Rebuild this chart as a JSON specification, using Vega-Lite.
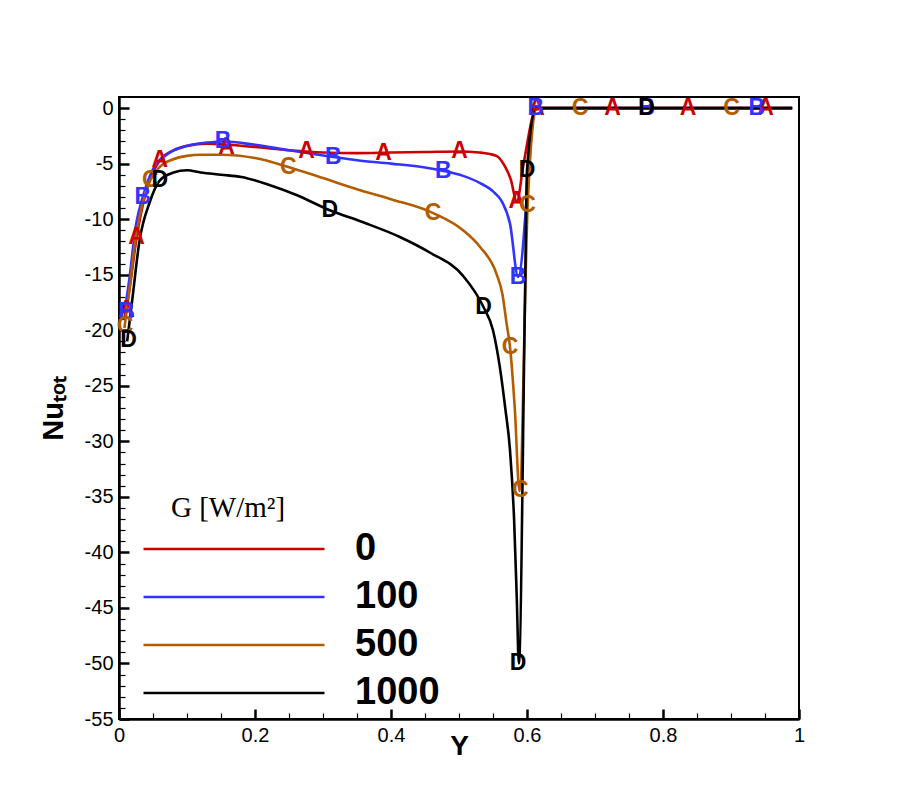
{
  "$schema": "https://vega.github.io/schema/vega-lite/v6.json",
  "width": 680,
  "height": 622,
  "autosize": {"type": "none"},
  "padding": {"left": 119, "top": 97, "right": 111, "bottom": 90},
  "background": "white",
  "datasets": {
    "curves": [
      {"G": "0", "Y": 0.008, "Nu": -19.0},
      {"G": "0", "Y": 0.015, "Nu": -16.5},
      {"G": "0", "Y": 0.026, "Nu": -11.6},
      {"G": "0", "Y": 0.04, "Nu": -7.5},
      {"G": "0", "Y": 0.06, "Nu": -4.7},
      {"G": "0", "Y": 0.08, "Nu": -3.8},
      {"G": "0", "Y": 0.1, "Nu": -3.4},
      {"G": "0", "Y": 0.13, "Nu": -3.2},
      {"G": "0", "Y": 0.16, "Nu": -3.3},
      {"G": "0", "Y": 0.2, "Nu": -3.5},
      {"G": "0", "Y": 0.25, "Nu": -3.8},
      {"G": "0", "Y": 0.3, "Nu": -4.0},
      {"G": "0", "Y": 0.35, "Nu": -4.05},
      {"G": "0", "Y": 0.4, "Nu": -4.0},
      {"G": "0", "Y": 0.45, "Nu": -3.95},
      {"G": "0", "Y": 0.5, "Nu": -3.9},
      {"G": "0", "Y": 0.53, "Nu": -4.0},
      {"G": "0", "Y": 0.555, "Nu": -4.3},
      {"G": "0", "Y": 0.568, "Nu": -5.3},
      {"G": "0", "Y": 0.576, "Nu": -6.4},
      {"G": "0", "Y": 0.585, "Nu": -8.4},
      {"G": "0", "Y": 0.595, "Nu": -5.0},
      {"G": "0", "Y": 0.614, "Nu": 0},
      {"G": "0", "Y": 0.99, "Nu": 0},
      {"G": "100", "Y": 0.008, "Nu": -18.5},
      {"G": "100", "Y": 0.015, "Nu": -15.5},
      {"G": "100", "Y": 0.025, "Nu": -10.5},
      {"G": "100", "Y": 0.035, "Nu": -8.0},
      {"G": "100", "Y": 0.05, "Nu": -5.5},
      {"G": "100", "Y": 0.07, "Nu": -4.2},
      {"G": "100", "Y": 0.1, "Nu": -3.4},
      {"G": "100", "Y": 0.13, "Nu": -3.1},
      {"G": "100", "Y": 0.153, "Nu": -3.0},
      {"G": "100", "Y": 0.2, "Nu": -3.3},
      {"G": "100", "Y": 0.25, "Nu": -3.8},
      {"G": "100", "Y": 0.315, "Nu": -4.4},
      {"G": "100", "Y": 0.35, "Nu": -4.7},
      {"G": "100", "Y": 0.4, "Nu": -5.0},
      {"G": "100", "Y": 0.45, "Nu": -5.35},
      {"G": "100", "Y": 0.477, "Nu": -5.65},
      {"G": "100", "Y": 0.506, "Nu": -6.1},
      {"G": "100", "Y": 0.531, "Nu": -6.75},
      {"G": "100", "Y": 0.55, "Nu": -7.5},
      {"G": "100", "Y": 0.563, "Nu": -8.4},
      {"G": "100", "Y": 0.575, "Nu": -10.4},
      {"G": "100", "Y": 0.587, "Nu": -15.2},
      {"G": "100", "Y": 0.613, "Nu": 0},
      {"G": "100", "Y": 0.99, "Nu": 0},
      {"G": "500", "Y": 0.008, "Nu": -19.8},
      {"G": "500", "Y": 0.015, "Nu": -16.5},
      {"G": "500", "Y": 0.025, "Nu": -11.5},
      {"G": "500", "Y": 0.035, "Nu": -8.5},
      {"G": "500", "Y": 0.046, "Nu": -6.5},
      {"G": "500", "Y": 0.06, "Nu": -5.3},
      {"G": "500", "Y": 0.08, "Nu": -4.6},
      {"G": "500", "Y": 0.1, "Nu": -4.3},
      {"G": "500", "Y": 0.12, "Nu": -4.2},
      {"G": "500", "Y": 0.15, "Nu": -4.2},
      {"G": "500", "Y": 0.2, "Nu": -4.5},
      {"G": "500", "Y": 0.249, "Nu": -5.3},
      {"G": "500", "Y": 0.3, "Nu": -6.3},
      {"G": "500", "Y": 0.35, "Nu": -7.3},
      {"G": "500", "Y": 0.4, "Nu": -8.2},
      {"G": "500", "Y": 0.462, "Nu": -9.45},
      {"G": "500", "Y": 0.506, "Nu": -11.0},
      {"G": "500", "Y": 0.531, "Nu": -12.5},
      {"G": "500", "Y": 0.555, "Nu": -14.9},
      {"G": "500", "Y": 0.564, "Nu": -16.8},
      {"G": "500", "Y": 0.57, "Nu": -19.4},
      {"G": "500", "Y": 0.575, "Nu": -21.5},
      {"G": "500", "Y": 0.582, "Nu": -27.0},
      {"G": "500", "Y": 0.589, "Nu": -34.5},
      {"G": "500", "Y": 0.601, "Nu": -8.7},
      {"G": "500", "Y": 0.614, "Nu": 0},
      {"G": "500", "Y": 0.99, "Nu": 0},
      {"G": "1000", "Y": 0.012, "Nu": -21.0},
      {"G": "1000", "Y": 0.02, "Nu": -17.0},
      {"G": "1000", "Y": 0.03, "Nu": -12.0},
      {"G": "1000", "Y": 0.045, "Nu": -8.5},
      {"G": "1000", "Y": 0.06, "Nu": -6.5},
      {"G": "1000", "Y": 0.08, "Nu": -5.8},
      {"G": "1000", "Y": 0.1, "Nu": -5.6},
      {"G": "1000", "Y": 0.12, "Nu": -5.8},
      {"G": "1000", "Y": 0.15, "Nu": -6.0},
      {"G": "1000", "Y": 0.18, "Nu": -6.2},
      {"G": "1000", "Y": 0.22, "Nu": -6.9},
      {"G": "1000", "Y": 0.26, "Nu": -7.8},
      {"G": "1000", "Y": 0.31, "Nu": -9.2},
      {"G": "1000", "Y": 0.36, "Nu": -10.3},
      {"G": "1000", "Y": 0.413, "Nu": -11.6},
      {"G": "1000", "Y": 0.457, "Nu": -13.0},
      {"G": "1000", "Y": 0.506, "Nu": -15.1},
      {"G": "1000", "Y": 0.536, "Nu": -17.9},
      {"G": "1000", "Y": 0.55, "Nu": -20.0},
      {"G": "1000", "Y": 0.56, "Nu": -23.3},
      {"G": "1000", "Y": 0.568, "Nu": -27.0},
      {"G": "1000", "Y": 0.575, "Nu": -30.8},
      {"G": "1000", "Y": 0.581, "Nu": -37.0},
      {"G": "1000", "Y": 0.585, "Nu": -44.2},
      {"G": "1000", "Y": 0.588, "Nu": -50.0},
      {"G": "1000", "Y": 0.597, "Nu": -17.3},
      {"G": "1000", "Y": 0.6, "Nu": -5.6},
      {"G": "1000", "Y": 0.613, "Nu": 0},
      {"G": "1000", "Y": 0.99, "Nu": 0}
    ],
    "markers": [
      {"G": "0", "L": "A", "Y": 0.011, "Nu": -18.2},
      {"G": "0", "L": "A", "Y": 0.026, "Nu": -11.6},
      {"G": "0", "L": "A", "Y": 0.06, "Nu": -4.7},
      {"G": "0", "L": "A", "Y": 0.158, "Nu": -3.5},
      {"G": "0", "L": "A", "Y": 0.276, "Nu": -3.9},
      {"G": "0", "L": "A", "Y": 0.389, "Nu": -4.05},
      {"G": "0", "L": "A", "Y": 0.501, "Nu": -3.9},
      {"G": "0", "L": "A", "Y": 0.585, "Nu": -8.4},
      {"G": "0", "L": "A", "Y": 0.614, "Nu": 0},
      {"G": "0", "L": "A", "Y": 0.726, "Nu": 0},
      {"G": "0", "L": "A", "Y": 0.837, "Nu": 0},
      {"G": "0", "L": "A", "Y": 0.951, "Nu": 0},
      {"G": "100", "L": "B", "Y": 0.011, "Nu": -18.4},
      {"G": "100", "L": "B", "Y": 0.035, "Nu": -8.0},
      {"G": "100", "L": "B", "Y": 0.153, "Nu": -3.0},
      {"G": "100", "L": "B", "Y": 0.315, "Nu": -4.4},
      {"G": "100", "L": "B", "Y": 0.477, "Nu": -5.65},
      {"G": "100", "L": "B", "Y": 0.587, "Nu": -15.2},
      {"G": "100", "L": "B", "Y": 0.613, "Nu": 0},
      {"G": "100", "L": "B", "Y": 0.776, "Nu": 0},
      {"G": "100", "L": "B", "Y": 0.938, "Nu": 0},
      {"G": "500", "L": "C", "Y": 0.009, "Nu": -19.6},
      {"G": "500", "L": "C", "Y": 0.046, "Nu": -6.5},
      {"G": "500", "L": "C", "Y": 0.249, "Nu": -5.3},
      {"G": "500", "L": "C", "Y": 0.462, "Nu": -9.45},
      {"G": "500", "L": "C", "Y": 0.575, "Nu": -21.5},
      {"G": "500", "L": "C", "Y": 0.59, "Nu": -34.4},
      {"G": "500", "L": "C", "Y": 0.601, "Nu": -8.7},
      {"G": "500", "L": "C", "Y": 0.678, "Nu": 0},
      {"G": "500", "L": "C", "Y": 0.901, "Nu": 0},
      {"G": "1000", "L": "D", "Y": 0.014, "Nu": -20.9},
      {"G": "1000", "L": "D", "Y": 0.06, "Nu": -6.5},
      {"G": "1000", "L": "D", "Y": 0.31, "Nu": -9.2},
      {"G": "1000", "L": "D", "Y": 0.536, "Nu": -17.9},
      {"G": "1000", "L": "D", "Y": 0.587, "Nu": -50.0},
      {"G": "1000", "L": "D", "Y": 0.6, "Nu": -5.6},
      {"G": "1000", "L": "D", "Y": 0.776, "Nu": 0}
    ]
  },
  "layer": [
    {
      "data": {"name": "curves"},
      "mark": {"type": "line", "strokeWidth": 2.6, "interpolate": "monotone"},
      "encoding": {
        "x": {
          "field": "Y",
          "type": "quantitative",
          "scale": {"domain": [0, 1], "nice": false, "zero": false},
          "axis": {
            "orient": "bottom",
            "values": [0, 0.2, 0.4, 0.6, 0.8, 1],
            "labelExpr": "'' + datum.value",
            "labelFlush": false,
            "labelOverlap": false,
            "tickSize": -10,
            "tickWidth": 2.5,
            "tickColor": "black",
            "domainColor": "black",
            "domainWidth": 2.5,
            "grid": false,
            "labelFont": "Liberation Sans",
            "labelFontSize": 20,
            "labelColor": "black",
            "labelPadding": 16,
            "title": "Y",
            "titleFont": "Liberation Sans",
            "titleFontSize": 28,
            "titleFontWeight": "bold",
            "titleColor": "black",
            "titlePadding": -13
          }
        },
        "y": {
          "field": "Nu",
          "type": "quantitative",
          "scale": {"domain": [-55, 1], "nice": false, "zero": false},
          "axis": {
            "orient": "left",
            "values": [-55, -50, -45, -40, -35, -30, -25, -20, -15, -10, -5, 0],
            "labelExpr": "'' + datum.value",
            "labelFlush": false,
            "labelOverlap": false,
            "tickSize": -10,
            "tickWidth": 2.5,
            "tickColor": "black",
            "domainColor": "black",
            "domainWidth": 2.5,
            "grid": false,
            "labelFont": "Liberation Sans",
            "labelFontSize": 20,
            "labelColor": "black",
            "labelPadding": 16,
            "title": "Nuₜₒₜ",
            "titleFont": "Liberation Sans",
            "titleFontSize": 29,
            "titleFontWeight": "bold",
            "titleColor": "black",
            "titlePadding": 16
          }
        },
        "color": {
          "field": "G",
          "type": "nominal",
          "scale": {"domain": ["0", "100", "500", "1000"], "range": ["#cc0000", "#3333ff", "#b35c00", "#000000"]},
          "legend": {
            "orient": "none",
            "legendX": 23,
            "legendY": 397,
            "padding": 0,
            "title": "\u200d\u00a0\u00a0\u00a0\u00a0G [W/m²]",
            "titleFont": "Liberation Serif",
            "titleFontSize": 29,
            "titleFontWeight": "normal",
            "titleColor": "black",
            "titlePadding": 4,
            "symbolType": "stroke",
            "symbolSize": 32761,
            "symbolStrokeWidth": 2.6,
            "symbolOpacity": 1,
            "clipHeight": 44,
            "rowPadding": 4,
            "labelFont": "Liberation Sans",
            "labelFontSize": 38,
            "labelFontWeight": "bold",
            "labelColor": "black",
            "labelOffset": 29
          }
        }
      }
    },
    {
      "data": {"name": "markers"},
      "mark": {"type": "text", "font": "Liberation Sans", "fontSize": 23, "fontWeight": "bold", "align": "center", "baseline": "middle"},
      "encoding": {
        "x": {
          "field": "Y",
          "type": "quantitative",
          "axis": {
            "orient": "bottom",
            "values": [0.05, 0.1, 0.15, 0.25, 0.3, 0.35, 0.45, 0.5, 0.55, 0.65, 0.7, 0.75, 0.85, 0.9, 0.95],
            "labels": false,
            "domain": false,
            "grid": false,
            "tickSize": -6,
            "tickWidth": 1.2,
            "tickColor": "black",
            "title": null
          }
        },
        "y": {
          "field": "Nu",
          "type": "quantitative",
          "axis": {
            "orient": "left",
            "values": [-54, -53, -52, -51, -49, -48, -47, -46, -44, -43, -42, -41, -39, -38, -37, -36, -34, -33, -32, -31, -29, -28, -27, -26, -24, -23, -22, -21, -19, -18, -17, -16, -14, -13, -12, -11, -9, -8, -7, -6, -4, -3, -2, -1],
            "labels": false,
            "domain": false,
            "grid": false,
            "tickSize": -6,
            "tickWidth": 1.2,
            "tickColor": "black",
            "title": null
          }
        },
        "fill": {
          "field": "G",
          "type": "nominal",
          "scale": {"domain": ["0", "100", "500", "1000"], "range": ["#cc0000", "#3333ff", "#b35c00", "#000000"]},
          "legend": null
        },
        "text": {"field": "L", "type": "nominal"}
      }
    }
  ],
  "resolve": {"axis": {"x": "independent", "y": "independent"}},
  "config": {
    "view": {"stroke": "black", "strokeWidth": 2}
  }
}
